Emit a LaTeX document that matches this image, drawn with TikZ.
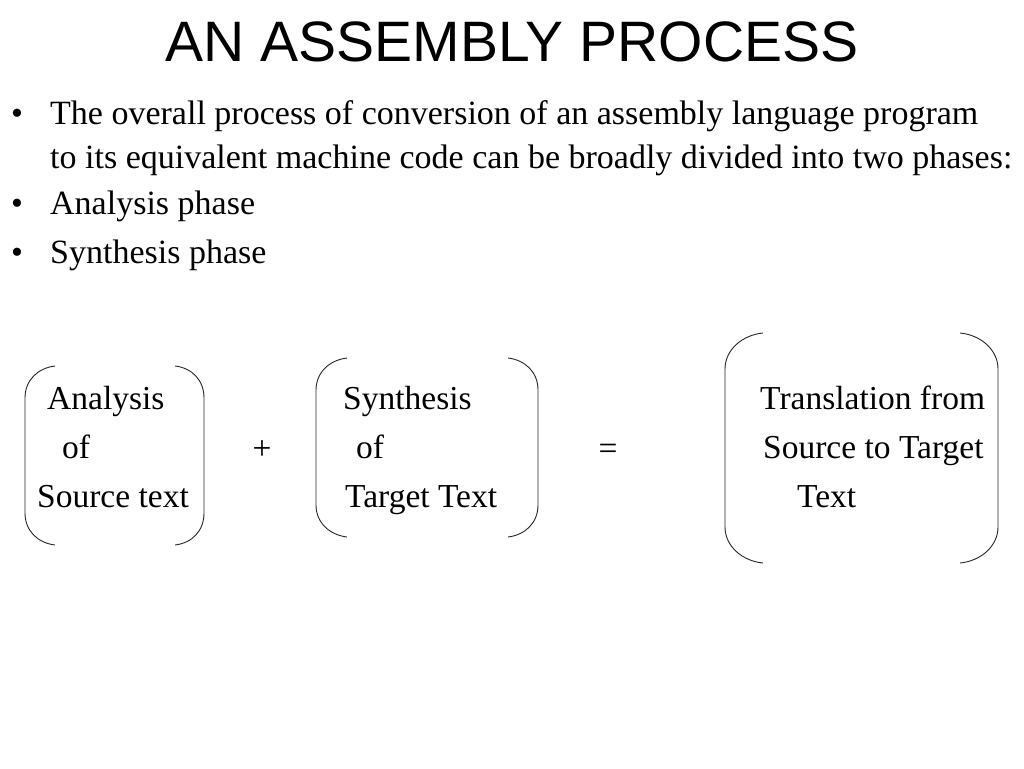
\documentclass[tikz,border=0pt]{standalone}
\usepackage{fontspec}
\setmainfont{Liberation Serif}
\newfontfamily\titlefont{Liberation Sans}
\tikzset{
  slide/.style={inner sep=0pt, anchor=base west, font=\fontsize{34}{40}\selectfont},
  box/.style={inner sep=0pt, anchor=base west, font=\fontsize{33.5}{40}\selectfont},
  paren/.style={line width=0.9pt, black!85},
}
\begin{document}
\begin{tikzpicture}[x=1pt, y=-1pt]
\useasboundingbox[fill=white] (0,0) rectangle (1024,768);
\node[inner sep=0pt, anchor=base, font=\titlefont\fontsize{57}{60}\selectfont] (title) at (512,62) {AN ASSEMBLY PROCESS};
\node[slide] (dot1) at (11,124) {•};
\node[slide] (item1) at (50,124) {The overall process of conversion of an assembly language program};
\node[slide] (item1b) at (50,168) {to its equivalent machine code can be broadly divided into two phases:};
\node[slide] (dot2) at (11,214) {•};
\node[slide] (item2) at (50,214) {Analysis phase};
\node[slide] (dot3) at (11,263) {•};
\node[slide] (item3) at (50,263) {Synthesis phase};
\node[box] (ana1) at (47,409) {Analysis};
\node[box] (ana2) at (62,458) {of};
\node[box] (ana3) at (37,507) {Source text};
\node[box, anchor=base] (plus) at (262,459) {+};
\node[box] (syn1) at (343,409) {Synthesis};
\node[box] (syn2) at (356,458) {of};
\node[box] (syn3) at (345,507) {Target Text};
\node[box, anchor=base] (equals) at (608,459) {=};
\node[box] (tra1) at (760,409) {Translation from};
\node[box] (tra2) at (763,458) {Source to Target};
\node[box] (tra3) at (797,507) {Text};
\draw[paren] (55,366) .. controls (38,368) and (25,380) .. (25,398) -- (25,513) .. controls (25,531) and (38,543) .. (55,545);
\draw[paren] (175,366) .. controls (192,368) and (204,380) .. (204,398) -- (204,513) .. controls (204,531) and (192,543) .. (175,545);
\draw[paren] (347,358) .. controls (330,360) and (316,372) .. (316,390) -- (316,505) .. controls (316,523) and (330,535) .. (347,537);
\draw[paren] (508,358) .. controls (525,360) and (538,372) .. (538,390) -- (538,505) .. controls (538,523) and (525,535) .. (508,537);
\draw[paren] (763,333) .. controls (742,335) and (725,350) .. (725,369) -- (725,527) .. controls (725,546) and (742,561) .. (763,563);
\draw[paren] (960,333) .. controls (981,335) and (998,350) .. (998,369) -- (998,527) .. controls (998,546) and (981,561) .. (960,563);
\end{tikzpicture}
\end{document}
